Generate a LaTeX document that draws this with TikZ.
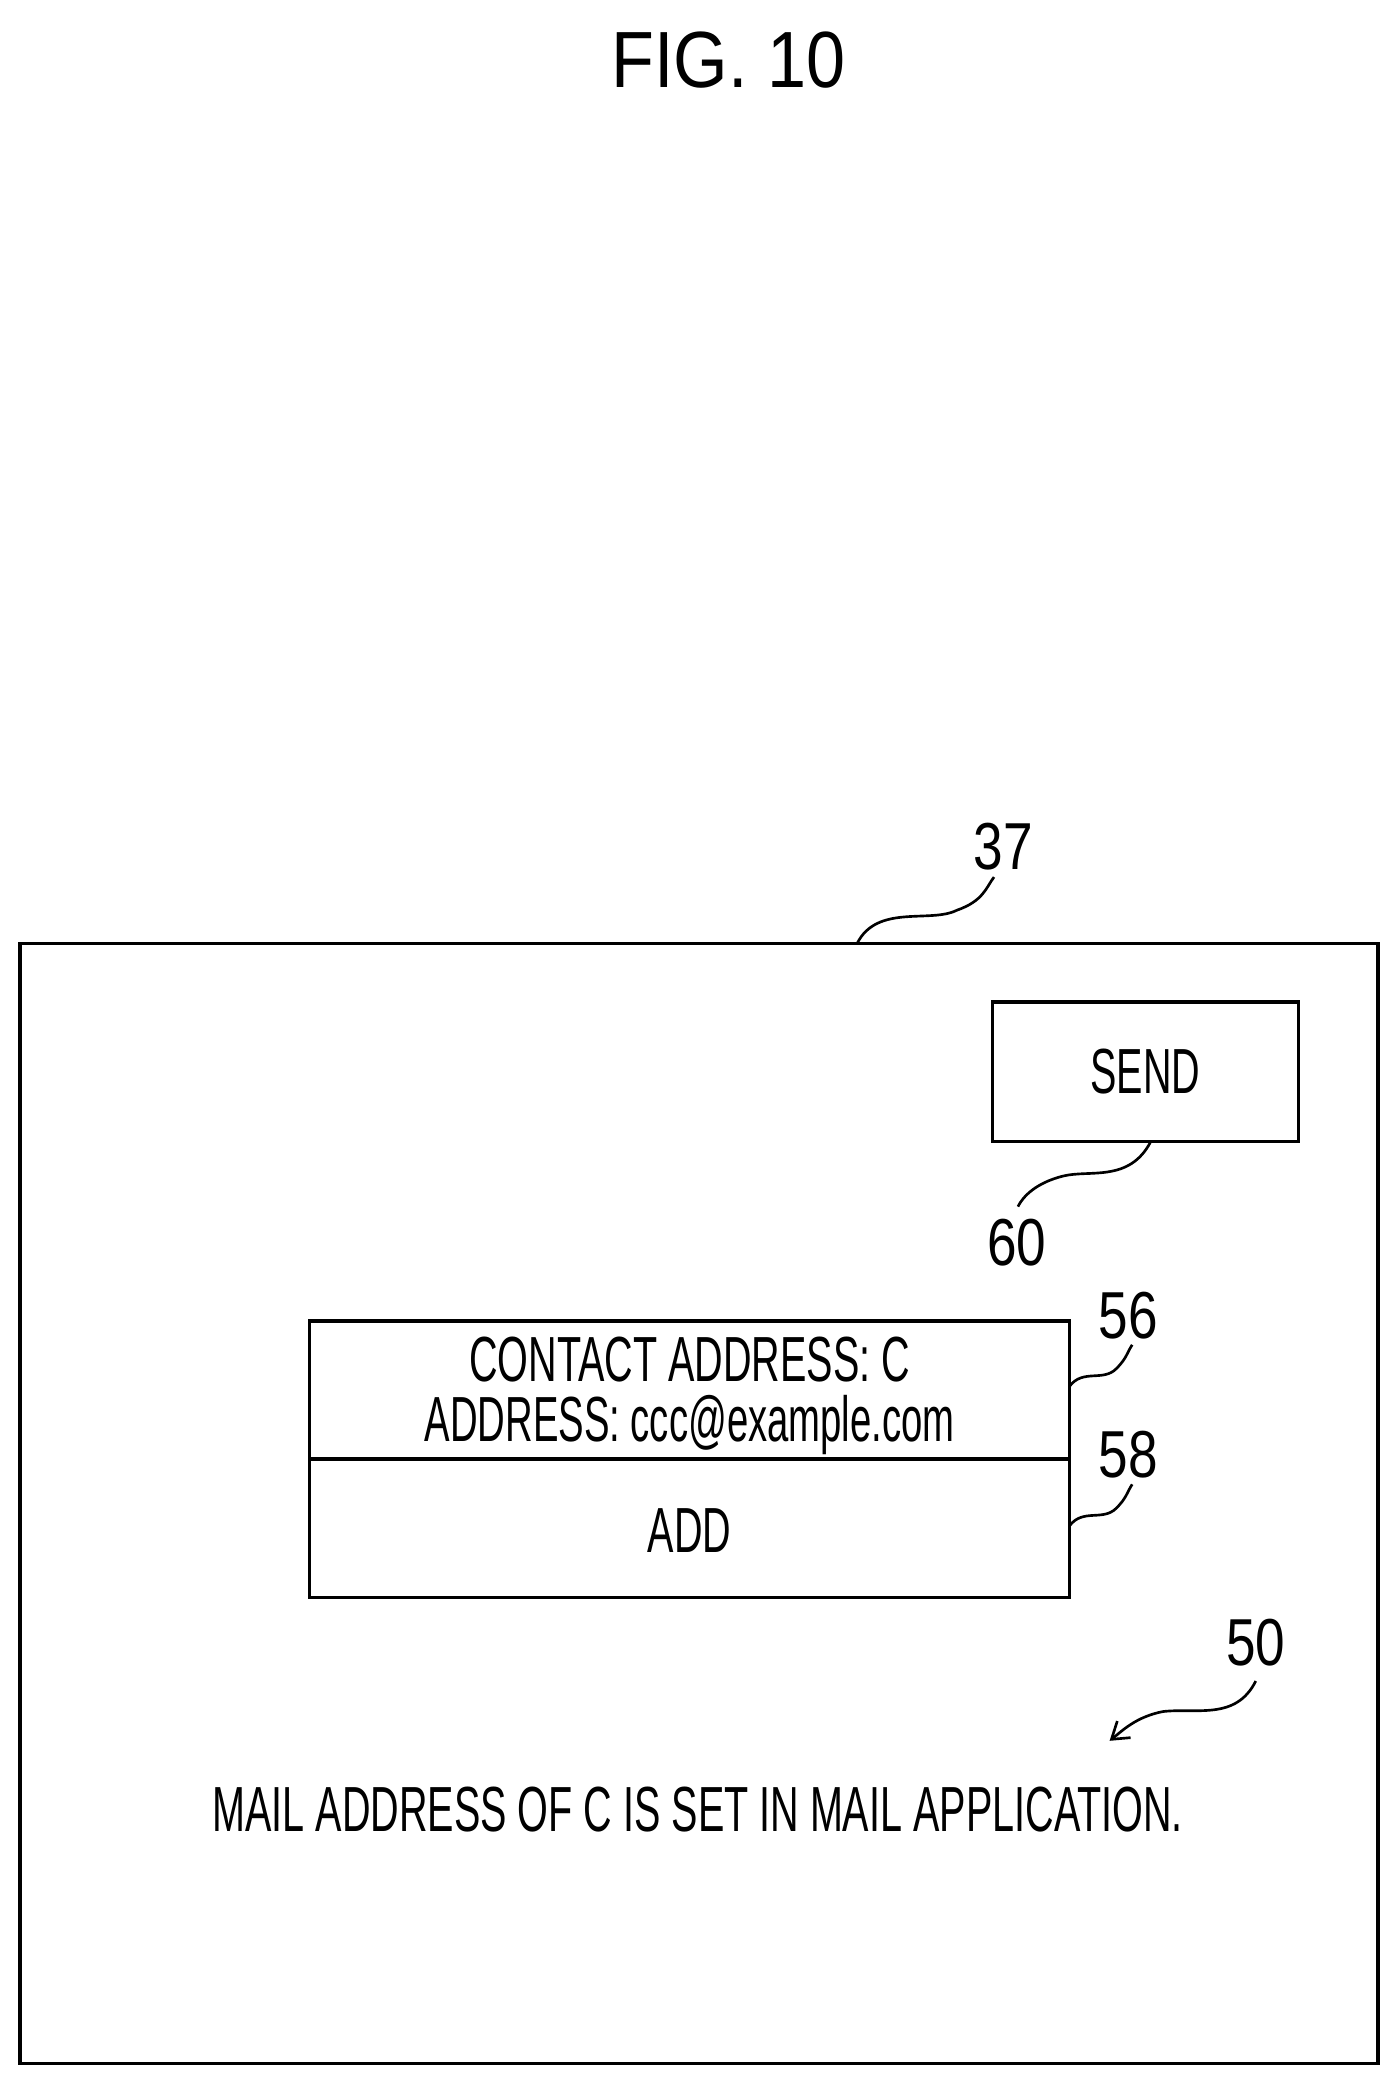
\documentclass[tikz,border=0pt]{standalone}
\usepackage{fontspec}
\setmainfont{Liberation Sans}
\usepackage{graphicx}
\usetikzlibrary{arrows.meta}
\newcommand{\nt}[1]{\scalebox{0.62}[1]{\fontsize{48}{50}\selectfont #1}}
\newcommand{\nl}[1]{\scalebox{0.8}[1]{\fontsize{50}{52}\selectfont #1}}
\begin{document}
\begin{tikzpicture}[x=1pt,y=-1pt,
  box/.style={draw,line width=2.5pt},
  lead/.style={line width=2pt},
  lbl/.style={inner sep=0pt}]
\useasboundingbox (0,0) rectangle (1049,1563);
\node[lbl] (title) at (548,45) {\scalebox{0.88}[1]{\fontsize{60}{64}\selectfont FIG. 10}};
\draw[box] (15,710) rectangle (1037,1553);
\coordinate (f37) at (645,710);
\node[lbl] (l37) at (755,637) {\nl{37}};
\draw[lead] (f37) .. controls (660,680) and (700,695) .. (720,685) .. controls (740,678) and (742,668) .. (748,660);
\node[box,minimum width=230pt,minimum height=105pt] (send) at (862,806.5) {};
\node[lbl] at (send) {\nt{SEND}};
\coordinate (s60) at (866,859);
\node[lbl] (l60) at (765,935) {\nl{60}};
\draw[lead] (s60) .. controls (850,890) and (820,880) .. (800,885) .. controls (780,890) and (770,900) .. (766,908);
\draw[box] (233,994) rectangle (805,1202);
\draw[box] (233,1098) -- (805,1098);
\node[lbl] (ct) at (519,1023) {\nt{CONTACT ADDRESS: C}};
\node[lbl] (ad) at (519,1072) {\scalebox{0.6}[1]{\fontsize{48}{50}\selectfont ADDRESS: ccc@example.com}};
\node[lbl] (add) at (519,1152) {\nt{ADD}};
\node[lbl] (l56) at (849,990) {\nl{56}};
\draw[lead] (805,1043) .. controls (815,1030) and (830,1040) .. (840,1030) .. controls (848,1022) and (848,1018) .. (852,1012);
\node[lbl] (l58) at (849,1095) {\nl{58}};
\draw[lead] (805,1148) .. controls (815,1135) and (830,1145) .. (840,1135) .. controls (848,1127) and (848,1123) .. (852,1117);
\node[lbl] (l50) at (945,1236) {\nl{50}};
\draw[lead,-{Straight Barb[length=12pt,width=16pt]}] (945,1265) .. controls (930,1295) and (900,1285) .. (875,1288) .. controls (855,1292) and (845,1302) .. (835,1310);
\node[lbl] (msg) at (525,1362) {\nt{MAIL ADDRESS OF C IS SET IN MAIL APPLICATION.}};
\end{tikzpicture}
\end{document}
